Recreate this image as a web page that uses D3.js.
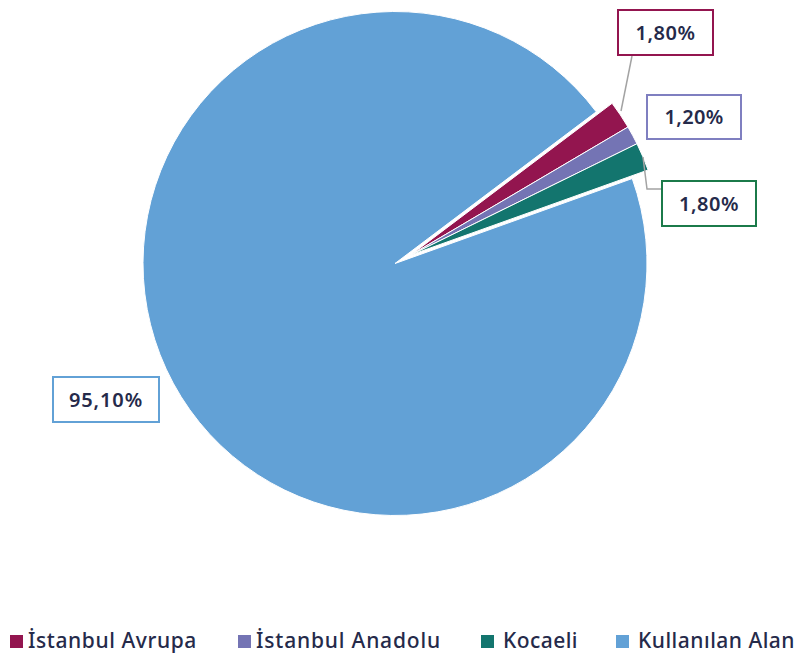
<!DOCTYPE html>
<html>
<head>
<meta charset="utf-8">
<script src="https://cdn.jsdelivr.net/npm/d3@7"></script>
<style>
  body { margin: 0; background: #fff; }
  text { font-family: "Noto Sans", sans-serif; fill: #252a4a; }
</style>
</head>
<body>
<div class="chart"></div>
<script>
// data
const categories = ["İstanbul Avrupa", "İstanbul Anadolu", "Kocaeli", "Kullanılan Alan"];
const values = [1.8, 1.2, 1.8, 95.1];
const labels = ["1,80%", "1,20%", "1,80%", "95,10%"];
const colors = ["#93154f", "#7474b4", "#13756e", "#62a1d6"];
const borderColors = ["#93154f", "#7f7fc0", "#1b7a4a", "#62a1d6"];

const width = 798;
const height = 655;
const cx = 395, cy = 263.5, radius = 252;
const explode = 18;

const svg = d3.select(".chart")
              .append("svg")
              .attr("width", width)
              .attr("height", height);

// stretch a text node to a given width with letter spacing
const fitWidth = function(sel, target) {
  sel.each(function() {
    const node = this;
    const n = node.textContent.length;
    const w = node.getComputedTextLength();
    d3.select(node).attr("letter-spacing", ((target - w) / n).toFixed(2));
  });
};

const startAngle = 53 * Math.PI / 180;
const pie = d3.pie()
              .sort(null)
              .value(function(d) { return d; })
              .startAngle(startAngle)
              .endAngle(startAngle + 2 * Math.PI);

const arc = d3.arc().innerRadius(0).outerRadius(radius);
const arcs = pie(values);

const g = svg.append("g").attr("transform", "translate(" + cx + "," + cy + ")");

// the three small slices get pulled out a bit
const midSmall = (arcs[0].startAngle + arcs[2].endAngle) / 2;
g.selectAll("path")
  .data(arcs)
  .enter()
  .append("path")
  .attr("d", arc)
  .attr("fill", function(d, i) { return colors[i]; })
  .attr("stroke", "#fff")
  .attr("stroke-width", 1)
  .attr("transform", function(d, i) {
    if (i === 3) return null;
    return "translate(" + (Math.sin(midSmall) * explode) + "," + (-Math.cos(midSmall) * explode) + ")";
  });

// leader lines
const leaders = [
  [[632, 56], [621, 111]],
  [[643, 157], [647, 189], [661, 189]]
];
svg.selectAll(".leader")
  .data(leaders)
  .enter()
  .append("polyline")
  .attr("class", "leader")
  .attr("points", function(d) { return d.map(function(p) { return p.join(","); }).join(" "); })
  .attr("fill", "none")
  .attr("stroke", "#a3a3a3")
  .attr("stroke-width", 1.5);

// label boxes
const boxes = [
  { x: 617, y: 9, w: 97, h: 47, tw: 60 },
  { x: 646, y: 94, w: 96, h: 46, tw: 59 },
  { x: 661, y: 180, w: 96, h: 47, tw: 60 },
  { x: 52, y: 376, w: 108, h: 47, tw: 74 }
];
const lab = svg.selectAll(".lab")
  .data(arcs)
  .enter()
  .append("g")
  .attr("class", "lab")
  .attr("transform", function(d, i) { return "translate(" + boxes[i].x + "," + boxes[i].y + ")"; });

lab.append("rect")
  .attr("x", 1)
  .attr("y", 1)
  .attr("width", function(d, i) { return boxes[i].w - 2; })
  .attr("height", function(d, i) { return boxes[i].h - 2; })
  .attr("fill", "#fff")
  .attr("stroke", function(d, i) { return borderColors[i]; })
  .attr("stroke-width", 2);

lab.append("text")
  .attr("x", function(d, i) { return (boxes[i].w - boxes[i].tw) / 2; })
  .attr("y", function(d, i) { return boxes[i].h / 2 + 7; })
  .attr("font-size", 20)
  .attr("font-weight", 600)
  .text(function(d, i) { return labels[i]; })
  .each(function(d, i) { fitWidth(d3.select(this), boxes[i].tw); });

// legend
const legendX = [10, 238, 481, 616];
const legendW = [169, 185, 75, 157];
const legend = svg.selectAll(".legend")
  .data(categories)
  .enter()
  .append("g")
  .attr("class", "legend")
  .attr("transform", function(d, i) { return "translate(" + legendX[i] + ",635)"; });

legend.append("rect")
  .attr("width", 13)
  .attr("height", 13)
  .attr("fill", function(d, i) { return colors[i]; });

legend.append("text")
  .attr("x", function(d, i) { return i < 2 ? 18 : 22; })
  .attr("y", 13)
  .attr("font-size", 21)
  .attr("font-weight", 500)
  .text(function(d) { return d; })
  .each(function(d, i) { fitWidth(d3.select(this), legendW[i]); });
</script>
</body>
</html>
